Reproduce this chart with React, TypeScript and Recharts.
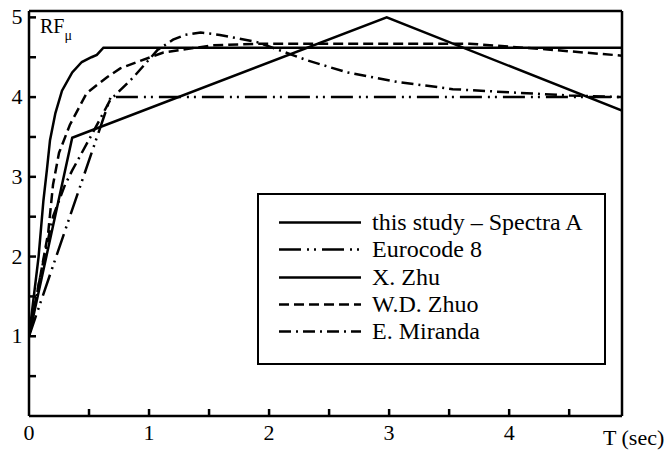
import React from 'react';
import { LineChart, Line, XAxis, YAxis, Legend } from 'recharts';

// T (sec) / RF values
const spectraA_T = [0, 0.08, 0.12, 0.15, 0.175, 0.22, 0.275, 0.36, 0.44, 0.52, 0.565, 0.62, 4.94];
const spectraA_RF = [1, 2.0, 2.7, 3.1, 3.46, 3.8, 4.08, 4.31, 4.44, 4.5, 4.53, 4.62, 4.62];

const eurocode_T = [0, 0.68, 4.94];
const eurocode_RF = [1, 4.0, 4.0];

const zhu_T = [0, 0.36, 2.98, 4.94];
const zhu_RF = [1, 3.49, 5.0, 3.83];

const zhuo_T = [0, 0.1, 0.16, 0.2, 0.25, 0.34, 0.48, 0.65, 0.76, 0.9, 1.12, 1.53, 1.95, 3.67, 4.3, 4.94];
const zhuo_RF = [1, 1.8, 2.3, 2.9, 3.3, 3.65, 4.05, 4.25, 4.36, 4.44, 4.56, 4.65, 4.67, 4.67, 4.6, 4.52];

const miranda_T = [0, 0.1, 0.2, 0.3, 0.36, 0.53, 0.675, 0.87, 1.07, 1.2, 1.3, 1.43, 1.59, 1.9, 2.32, 2.65, 3.07, 3.53, 4.0, 4.5, 4.94];
const miranda_RF = [1, 1.8, 2.5, 2.9, 3.08, 3.55, 3.96, 4.25, 4.59, 4.72, 4.78, 4.81, 4.78, 4.69, 4.46, 4.31, 4.19, 4.1, 4.06, 4.02, 4.0];

const xTicks = [0, 0.5, 1, 1.5, 2, 2.5, 3, 3.5, 4, 4.5];
const yTicks = [0.5, 1, 1.5, 2, 2.5, 3, 3.5, 4, 4.5, 5];

const toPoints = (ts: number[], vs: number[]) => ts.map((t, i) => ({ t, rf: vs[i] }));

const series = [
  { name: 'this study \u2013 Spectra A', data: toPoints(spectraA_T, spectraA_RF), dash: undefined },
  { name: 'Eurocode 8', data: toPoints(eurocode_T, eurocode_RF), dash: '22 6 2 5 2 6' },
  { name: 'X. Zhu', data: toPoints(zhu_T, zhu_RF), dash: undefined },
  { name: 'W.D. Zhuo', data: toPoints(zhuo_T, zhuo_RF), dash: '10 5' },
  { name: 'E. Miranda', data: toPoints(miranda_T, miranda_RF), dash: '12 5 2 5' },
];

const FONT = 'Liberation Serif, Times New Roman, serif';

const XTick = (props: any) => {
  const { x, y, payload } = props;
  const major = Number.isInteger(payload.value);
  return (
    <g>
      {payload.value > 0 && <line x1={x} x2={x} y1={y} y2={y - 7} stroke="#000" strokeWidth={2.5} />}
      {major && (
        <text x={x} y={y + 24} textAnchor="middle" fontSize={22} fontFamily={FONT} fill="#000">
          {payload.value}
        </text>
      )}
    </g>
  );
};

const YTick = (props: any) => {
  const { x, y, payload } = props;
  const major = Number.isInteger(payload.value);
  return (
    <g>
      <line x1={x} x2={x + 7} y1={y} y2={y} stroke="#000" strokeWidth={2.5} />
      {major && (
        <text x={x - 12} y={y + 7} textAnchor="middle" fontSize={22} fontFamily={FONT} fill="#000">
          {payload.value}
        </text>
      )}
    </g>
  );
};

const LegendBox = () => (
  <div
    style={{
      position: 'relative',
      width: 349,
      height: 172,
      border: '2.5px solid #000',
      boxSizing: 'border-box',
      background: '#fff',
      fontFamily: FONT,
      fontSize: 24,
      color: '#000',
    }}
  >
    {series.map((s, i) => (
      <div
        key={s.name}
        style={{ position: 'absolute', left: 20, top: 14 + i * 27.3, height: 27, display: 'flex', alignItems: 'center' }}
      >
        <svg width={82} height={27}>
          <line x1={0} x2={82} y1={13.5} y2={13.5} stroke="#000" strokeWidth={2.5} strokeDasharray={s.dash} />
        </svg>
        <span style={{ marginLeft: 11, lineHeight: '27px', whiteSpace: 'nowrap' }}>{s.name}</span>
      </div>
    ))}
  </div>
);

export default function App() {
  return (
    <div style={{ position: 'absolute', left: 0, top: 0, width: 669, height: 452, background: '#fff' }}>
      <LineChart width={669} height={452} margin={{ top: 10, right: 46, bottom: 35, left: 28 }}>
        <XAxis
          dataKey="t"
          type="number"
          domain={[0, 4.94]}
          ticks={xTicks}
          allowDataOverflow
          height={1}
          tickSize={0}
          tickMargin={0}
          tickLine={false}
          tick={<XTick />}
          axisLine={{ stroke: '#000', strokeWidth: 2.5 }}
          interval={0}
        />
        <XAxis
          xAxisId="top"
          orientation="top"
          type="number"
          domain={[0, 4.94]}
          height={1}
          tick={false}
          tickLine={false}
          axisLine={{ stroke: '#000', strokeWidth: 2.5 }}
        />
        <YAxis
          type="number"
          domain={[0, 5.08]}
          ticks={yTicks}
          allowDataOverflow
          width={1}
          tickSize={0}
          tickMargin={0}
          tickLine={false}
          tick={<YTick />}
          axisLine={{ stroke: '#000', strokeWidth: 2.5 }}
          interval={0}
        />
        <YAxis
          yAxisId="right"
          orientation="right"
          type="number"
          domain={[0, 5.08]}
          width={1}
          tick={false}
          tickLine={false}
          axisLine={{ stroke: '#000', strokeWidth: 2.5 }}
        />
        {series.map((s) => (
          <Line
            key={s.name}
            data={s.data}
            dataKey="rf"
            name={s.name}
            type="linear"
            stroke="#000"
            strokeWidth={2.5}
            strokeDasharray={s.dash}
            dot={false}
            activeDot={false}
            isAnimationActive={false}
          />
        ))}
        <Legend
          layout="vertical"
          align="center"
          verticalAlign="middle"
          content={() => <LegendBox />}
          wrapperStyle={{ position: 'absolute', left: 257, top: 193, width: 349, height: 172 }}
        />
      </LineChart>
      <div style={{ position: 'absolute', left: 40, top: 15, fontFamily: FONT, fontSize: 20, color: '#000' }}>
        RF<sub style={{ fontSize: 14, verticalAlign: 'baseline', position: 'relative', top: 7 }}>{'\u03bc'}</sub>
      </div>
      <div style={{ position: 'absolute', left: 603, top: 425, fontFamily: FONT, fontSize: 22, color: '#000', whiteSpace: 'nowrap' }}>
        T (sec)
      </div>
    </div>
  );
}
